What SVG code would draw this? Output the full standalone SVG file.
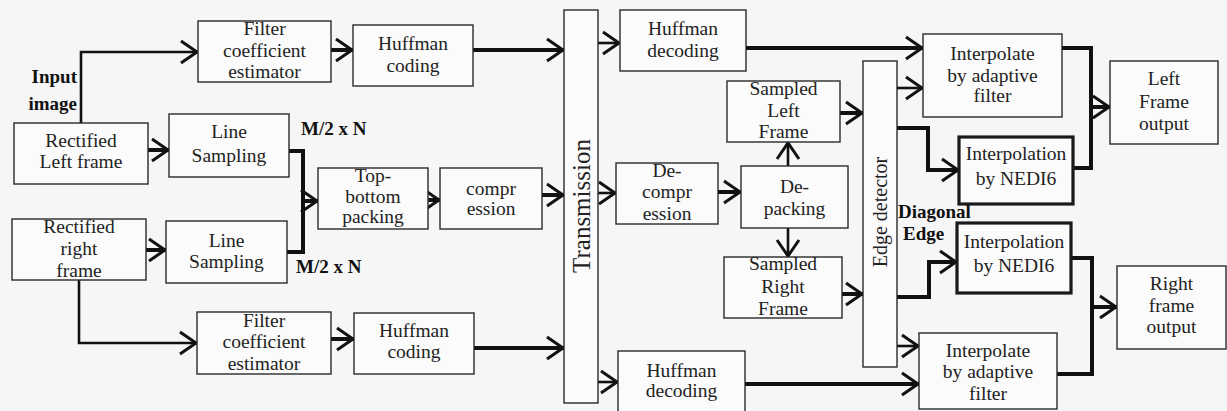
<svg xmlns="http://www.w3.org/2000/svg" width="1227" height="411" viewBox="0 0 1227 411">
<defs>
<style>
.box{fill:#fbfbfb;stroke:#2a2a2a;stroke-width:1.4}
.bold{fill:#fbfbfb;stroke:#1a1a1a;stroke-width:3.2}
.t{font-family:"Liberation Serif",serif;font-size:19.5px;fill:#222;text-anchor:middle}
.lb{font-family:"Liberation Serif",serif;font-size:19px;font-weight:bold;fill:#111}
.vt{font-family:"Liberation Serif",serif;fill:#222;text-anchor:middle}
.c{fill:none;stroke:#111;stroke-width:2.6;stroke-linejoin:miter}
.k{fill:none;stroke:#111;stroke-width:4;stroke-linejoin:miter}
.a{marker-end:url(#ah)}
</style>
<marker id="ah" markerUnits="userSpaceOnUse" markerWidth="26" markerHeight="30" viewBox="-22 -15 26 30" refX="0" refY="0" orient="auto">
<path d="M-17,-11 L-1,0 L-17,11" fill="none" stroke="#111" stroke-width="3"/>
</marker>
</defs>
<rect x="0" y="0" width="1227" height="411" fill="#f6f6f6"/>

<g id="connectors">
<path class="c a" d="M81,123 V52 H198"/>
<path class="k a" d="M148,150 H169"/>
<path class="k" d="M289,151 H303 V252 H287"/>
<path class="k a" d="M303,201 H318"/>
<path class="k a" d="M146,250 H166"/>
<path class="c a" d="M79,280 V343 H197"/>
<path class="k a" d="M331,50 H353"/>
<path class="k a" d="M473,50 H564"/>
<path class="k a" d="M331,339 H354"/>
<path class="k a" d="M474,348 H564"/>
<path class="k a" d="M428,200 H440"/>
<path class="k a" d="M542,195 H564"/>
<path class="c a" d="M598,43 H620"/>
<path class="c a" d="M598,193 H616"/>
<path class="c a" d="M598,382 H618"/>
<path class="k a" d="M718,192 H741"/>
<path class="c a" d="M788,166 V142"/>
<path class="c a" d="M788,228 V257"/>
<path class="k a" d="M840,113 H863"/>
<path class="k a" d="M842,294 H863"/>
<path class="k a" d="M746,48 H923"/>
<path class="c a" d="M897,88 H923"/>
<path class="k a" d="M897,128 H928 V170 H959"/>
<path class="k a" d="M897,297 H929 V262 H957"/>
<path class="c a" d="M897,346 H919"/>
<path class="k a" d="M745,384 H919"/>
<path class="k" d="M1062,48 H1091 V168 H1073"/>
<path class="k a" d="M1091,107 H1110"/>
<path class="k" d="M1071,258 H1092 V374 H1057"/>
<path class="k a" d="M1092,307 H1117"/>
</g>

<g id="label-input"><text class="lb" text-anchor="end" x="77" y="83">Input</text><text class="lb" text-anchor="end" x="77" y="110">image</text></g>
<g id="label-m2n-top"><text class="lb" x="301" y="135">M/2 x N</text></g>
<g id="label-m2n-bot"><text class="lb" x="296" y="273">M/2 x N</text></g>
<g id="label-diag"><text class="lb" x="898" y="218">Diagonal</text><text class="lb" x="903" y="240">Edge</text></g>

<g id="filter-top"><rect class="box" x="198" y="21" width="133" height="61"/><text class="t" x="264.5" y="35">Filter</text><text class="t" x="264.5" y="57">coefficient</text><text class="t" x="264.5" y="78">estimator</text></g>
<g id="huffman-coding-top"><rect class="box" x="353" y="25" width="120" height="61"/><text class="t" x="413" y="50">Huffman</text><text class="t" x="413" y="72">coding</text></g>
<g id="rectified-left"><rect class="box" x="14" y="123" width="134" height="61"/><text class="t" x="81" y="147">Rectified</text><text class="t" x="81" y="168">Left frame</text></g>
<g id="line-sampling-top"><rect class="box" x="169" y="114" width="120" height="63"/><text class="t" x="229" y="138">Line</text><text class="t" x="229" y="162">Sampling</text></g>
<g id="rectified-right"><rect class="box" x="12" y="219" width="134" height="61"/><text class="t" x="79" y="233">Rectified</text><text class="t" x="79" y="255">right</text><text class="t" x="79" y="277">frame</text></g>
<g id="line-sampling-bot"><rect class="box" x="166" y="221" width="121" height="62"/><text class="t" x="226.5" y="247">Line</text><text class="t" x="226.5" y="268">Sampling</text></g>
<g id="filter-bot"><rect class="box" x="197" y="312" width="134" height="62"/><text class="t" x="264" y="327">Filter</text><text class="t" x="264" y="348">coefficient</text><text class="t" x="264" y="370">estimator</text></g>
<g id="huffman-coding-bot"><rect class="box" x="354" y="313" width="120" height="61"/><text class="t" x="414" y="337">Huffman</text><text class="t" x="414" y="358">coding</text></g>
<g id="top-bottom-packing"><rect class="box" x="318" y="168" width="110" height="61"/><text class="t" x="373" y="182">Top-</text><text class="t" x="373" y="203">bottom</text><text class="t" x="373" y="223">packing</text></g>
<g id="compression"><rect class="box" x="440" y="168" width="102" height="61"/><text class="t" x="491" y="195">compr</text><text class="t" x="491" y="215">ession</text></g>
<g id="transmission"><rect class="box" x="564" y="10" width="34" height="393"/><text class="vt" font-size="25" transform="translate(590,206) rotate(-90)">Transmission</text></g>
<g id="huffman-decoding-top"><rect class="box" x="620" y="10" width="126" height="61"/><text class="t" x="683" y="35">Huffman</text><text class="t" x="683" y="57">decoding</text></g>
<g id="de-compression"><rect class="box" x="616" y="163" width="102" height="61"/><text class="t" x="667" y="177">De-</text><text class="t" x="667" y="198">compr</text><text class="t" x="667" y="220">ession</text></g>
<g id="de-packing"><rect class="box" x="741" y="166" width="107" height="62"/><text class="t" x="794.5" y="193">De-</text><text class="t" x="794.5" y="215">packing</text></g>
<g id="sampled-left"><rect class="box" x="727" y="81" width="113" height="61"/><text class="t" x="783.5" y="95">Sampled</text><text class="t" x="783.5" y="117">Left</text><text class="t" x="783.5" y="138">Frame</text></g>
<g id="sampled-right"><rect class="box" x="724" y="257" width="118" height="61"/><text class="t" x="783" y="270">Sampled</text><text class="t" x="783" y="293">Right</text><text class="t" x="783" y="315">Frame</text></g>
<g id="huffman-decoding-bot"><rect class="box" x="618" y="351" width="127" height="64"/><text class="t" x="681.5" y="377">Huffman</text><text class="t" x="681.5" y="397">decoding</text></g>
<g id="edge-detector"><rect class="box" x="863" y="61" width="34" height="306"/><text class="vt" font-size="20" transform="translate(887,212) rotate(-90)">Edge detector</text></g>
<g id="interpolate-top"><rect class="box" x="923" y="34" width="139" height="83"/><text class="t" x="992.5" y="60">Interpolate</text><text class="t" x="992.5" y="82">by adaptive</text><text class="t" x="992.5" y="102">filter</text></g>
<g id="nedi-top"><rect class="bold" x="959" y="137" width="114" height="67"/><text class="t" x="1016" y="160">Interpolation</text><text class="t" x="1016" y="185">by NEDI6</text></g>
<g id="left-output"><rect class="box" x="1110" y="61" width="108" height="83"/><text class="t" x="1164" y="85">Left</text><text class="t" x="1164" y="108">Frame</text><text class="t" x="1164" y="130">output</text></g>
<g id="nedi-bot"><rect class="bold" x="957" y="223" width="114" height="70"/><text class="t" x="1014" y="248">Interpolation</text><text class="t" x="1014" y="272">by NEDI6</text></g>
<g id="right-output"><rect class="box" x="1117" y="266" width="109" height="83"/><text class="t" x="1171.5" y="290">Right</text><text class="t" x="1171.5" y="312">frame</text><text class="t" x="1171.5" y="333">output</text></g>
<g id="interpolate-bot"><rect class="box" x="919" y="333" width="138" height="76"/><text class="t" x="988" y="357">Interpolate</text><text class="t" x="988" y="378">by adaptive</text><text class="t" x="988" y="400">filter</text></g>
</svg>
